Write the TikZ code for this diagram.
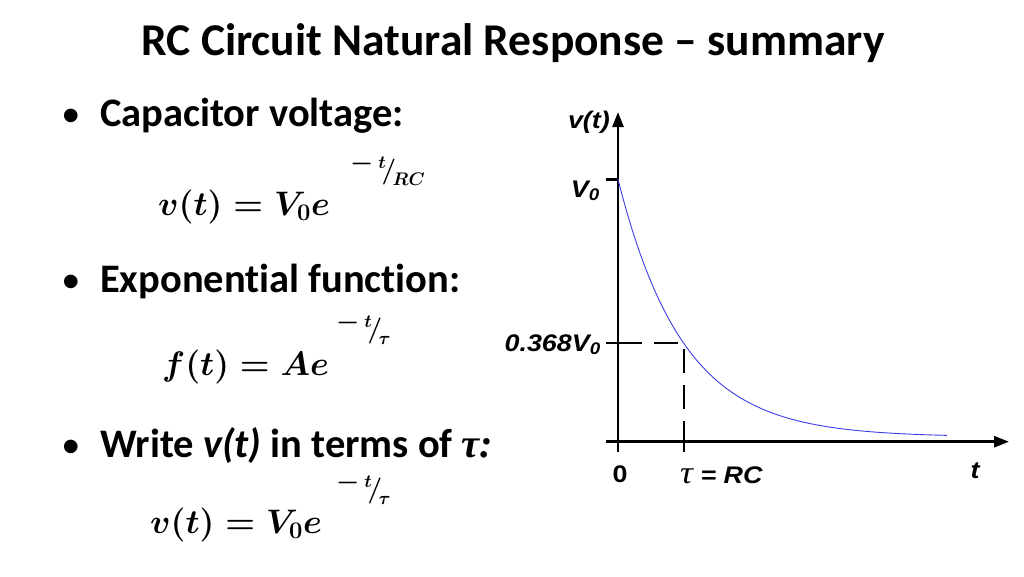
\RequirePackage{fix-cm}
\documentclass[tikz,border=0pt]{standalone}
\usepackage[no-math]{fontspec}
\setmainfont{Carlito}[Ligatures=NoCommon]
\newfontfamily\arialf{Liberation Sans}
\newfontfamily\timesf{Liberation Serif}
\usetikzlibrary{arrows.meta}
\newcommand\myeqA{$v(t)=V_0e$}
\newcommand\myeqB{$f(t)=Ae$}
\newcommand\myminus{\raisebox{8pt}{$-$}}
\newcommand\myexpA{\myminus$\,{}^{t}\!\big/_{\!RC}$}
\newcommand\myexpB{\myminus$\,{}^{t}\!\big/_{\!\tau}$}
\newcommand\gl[1]{\scalebox{1.12}[1]{#1}}
\tikzset{
  axisline/.style={line width=2.6pt, -{Triangle[length=15pt,width=11pt]}},
  tickline/.style={line width=2.6pt},
  dashline/.style={line width=2.4pt, dash pattern=on 24pt off 12pt},
  curveline/.style={line width=0.9pt, draw={rgb,255:red,60;green,60;blue,230}},
  graphlabel/.style={font=\arialf\bfseries\itshape\fontsize{24}{28}\selectfont, inner sep=0pt},
  bullettext/.style={anchor=base west, inner sep=0pt, font=\bfseries\fontsize{40.5}{46}\selectfont},
  bulletdot/.style={anchor=base, inner sep=0pt, font=\arialf\fontsize{50}{56}\selectfont},
  eqtext/.style={anchor=base west, inner sep=0pt, font=\mathversion{bold}\fontsize{34}{40}\selectfont},
  exptext/.style={anchor=south west, inner sep=0pt, font=\mathversion{bold}\fontsize{26}{32}\selectfont},
}
\begin{document}
\begin{tikzpicture}[x=1pt,y=-1pt]
\useasboundingbox (0,0) rectangle (1024,576);
\node[inner sep=0pt, anchor=base, font=\bfseries\fontsize{45.5}{52}\selectfont] (title) at (513,55) {RC Circuit Natural Response – summary};
\node[bulletdot] (d1) at (71.7,132) {•};
\node[bullettext] (b1) at (100,126) {Capacitor voltage:};
\node[bulletdot] (d2) at (71.7,298) {•};
\node[bullettext] (b2) at (100,292) {Exponential function:};
\node[bulletdot] (d3) at (71.7,463) {•};
\node[bullettext] (b3) at (100,457) {Write \textit{v(t)} in terms of {\timesf\itshape τ:}};
\node[eqtext] (eqa) at (158,215) {\myeqA};
\node[exptext] (xa) at (350,186) {\myexpA};
\node[eqtext] (eqb) at (162,375) {\myeqB};
\node[exptext] (xb) at (336,345) {\myexpB};
\node[eqtext] (eqc) at (150,533) {\myeqA};
\node[exptext] (xc) at (336,505) {\myexpB};
\coordinate (ybot) at (618,452);
\coordinate (ytop) at (618,112);
\coordinate (xleft) at (606,441.7);
\coordinate (xright) at (1009,441.7);
\coordinate (v0a) at (606,179.3);
\coordinate (v0b) at (618,179.3);
\coordinate (pa) at (606,343);
\coordinate (pb) at (618,343);
\coordinate (pt) at (684,343);
\coordinate (tx) at (684,441.7);
\coordinate (tb) at (684,452);
\draw[axisline] (ybot) -- (ytop);
\draw[axisline] (xleft) -- (xright);
\draw[tickline] (v0a) -- (v0b);
\draw[tickline] (pa) -- (pb);
\draw[tickline] (tx) -- (tb);
\draw[dashline] (pb) -- (pt) -- (tx);
\draw[curveline] plot[domain=0:5.06, samples=120] ({618+65*\x},{437-257.7*exp(-\x)});
\node[graphlabel, anchor=base east] (lv) at (610,128) {\gl{v(t)}};
\node[graphlabel, anchor=base east] (lv0) at (600,197) {\gl{V\textsubscript{0}}};
\node[graphlabel, anchor=base east] (lp) at (601,351) {\gl{0.368V\textsubscript{0}}};
\node[graphlabel, anchor=base, font=\arialf\bfseries\fontsize{24}{28}\selectfont] (lzero) at (620,482) {\gl{0}};
\node[graphlabel, anchor=base west] (ltau) at (680,483) {\gl{{\timesf\itshape\mdseries\fontsize{32}{36}\selectfont τ} = RC}};
\node[graphlabel, anchor=base] (lt) at (975,478) {\gl{t}};
\end{tikzpicture}
\end{document}
